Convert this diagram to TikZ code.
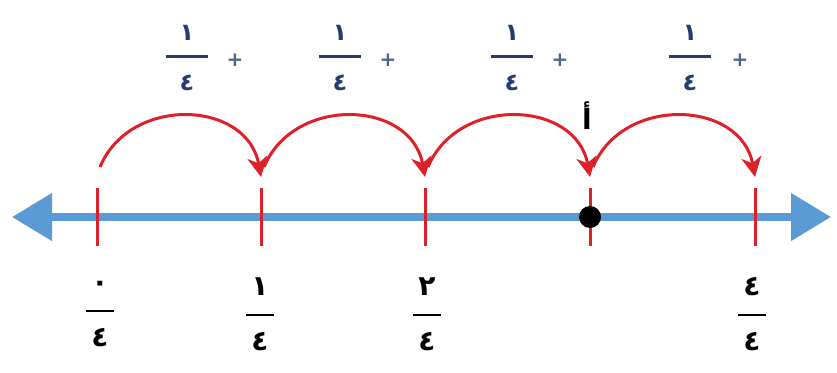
\documentclass[tikz,border=0pt]{standalone}
\usepackage{fontspec}
\newfontfamily\arabicfont[Script=Arabic]{DejaVu Sans}
\TeXXeTstate=1
\usetikzlibrary{arrows.meta,positioning}
\definecolor{axisblue}{RGB}{91,155,213}
\definecolor{jumpred}{RGB}{222,32,40}
\definecolor{fracblue}{RGB}{35,62,110}
\definecolor{plusblue}{RGB}{80,100,140}

\begin{document}
\begin{tikzpicture}[
    x=1pt, y=-1pt,
    axis/.style={{Triangle[length=40pt,width=46pt]}-{Triangle[length=40pt,width=46pt]}, line width=8pt, axisblue},
    tick/.style={line width=3pt, jumpred},
    jump/.style={-{Stealth[length=20pt,width=20pt,inset=6pt]}, line width=3pt, jumpred},
    topfrac/.style={align=center, inner sep=0pt, text=fracblue, font=\arabicfont\bfseries\fontsize{24}{25}\selectfont},
    botfrac/.style={align=center, inner sep=0pt, text=black, font=\arabicfont\bfseries\fontsize{28}{27.5}\selectfont},
    plus/.style={inner sep=0pt, text=plusblue, font=\arabicfont\bfseries\fontsize{20}{20}\selectfont}
]
\useasboundingbox (0,0) rectangle (837,372);

% Number line
\coordinate (lend) at (12,217);
\coordinate (rend) at (831,217);
\draw[axis] (lend) -- (rend);

% Tick marks
\coordinate (top0) at (97,188);  \coordinate (bot0) at (97,246);
\coordinate (top1) at (261,188); \coordinate (bot1) at (261,246);
\coordinate (top2) at (425,188); \coordinate (bot2) at (425,246);
\coordinate (top3) at (590,188); \coordinate (bot3) at (590,246);
\coordinate (top4) at (755,188); \coordinate (bot4) at (755,246);
\draw[tick] (top0) -- (bot0);
\draw[tick] (top1) -- (bot1);
\draw[tick] (top2) -- (bot2);
\draw[tick] (top3) -- (bot3);
\draw[tick] (top4) -- (bot4);

% Point A
\node[circle, fill=black, inner sep=0pt, minimum size=22pt] (pa) at (590,217) {};
\node[font=\arabicfont\bfseries\fontsize{28}{28}\selectfont] (lbla) at (587,116) {\beginR أ\endR};

% Jumps of one quarter
\coordinate (from0) at (100,167); \coordinate (tip1) at (261,177);
\coordinate (from1) at (264,167); \coordinate (tip2) at (425,177);
\coordinate (from2) at (428,167); \coordinate (tip3) at (590,177);
\coordinate (from3) at (593,167); \coordinate (tip4) at (755,177);
\draw[jump] (from0) .. controls +(30,-72) and +(-14,-77) .. (tip1);
\draw[jump] (from1) .. controls +(30,-72) and +(-14,-77) .. (tip2);
\draw[jump] (from2) .. controls +(30,-72) and +(-14,-77) .. (tip3);
\draw[jump] (from3) .. controls +(30,-72) and +(-14,-77) .. (tip4);

% Added quarters
\node[topfrac] (add1) at (187,58) {١\\\rule[8pt]{42pt}{2.5pt}\\٤};
\node[plus] (plus1) at (235,60) {+};
\node[topfrac] (add2) at (340,58) {١\\\rule[8pt]{42pt}{2.5pt}\\٤};
\node[plus] (plus2) at (388,60) {+};
\node[topfrac] (add3) at (512,58) {١\\\rule[8pt]{42pt}{2.5pt}\\٤};
\node[plus] (plus3) at (560,60) {+};
\node[topfrac] (add4) at (690,58) {١\\\rule[8pt]{42pt}{2.5pt}\\٤};
\node[plus] (plus4) at (740,60) {+};

% Values below the line
\node[botfrac] (val0) at (100,314) {٠\\\rule[6.5pt]{28pt}{2.5pt}\\٤};
\node[botfrac] (val1) at (260,314) {١\\\rule[6.5pt]{28pt}{2.5pt}\\٤};
\node[botfrac] (val2) at (427,314) {٢\\\rule[6.5pt]{28pt}{2.5pt}\\٤};
\node[botfrac] (val4) at (752,314) {٤\\\rule[6.5pt]{28pt}{2.5pt}\\٤};

\end{tikzpicture}
\end{document}
